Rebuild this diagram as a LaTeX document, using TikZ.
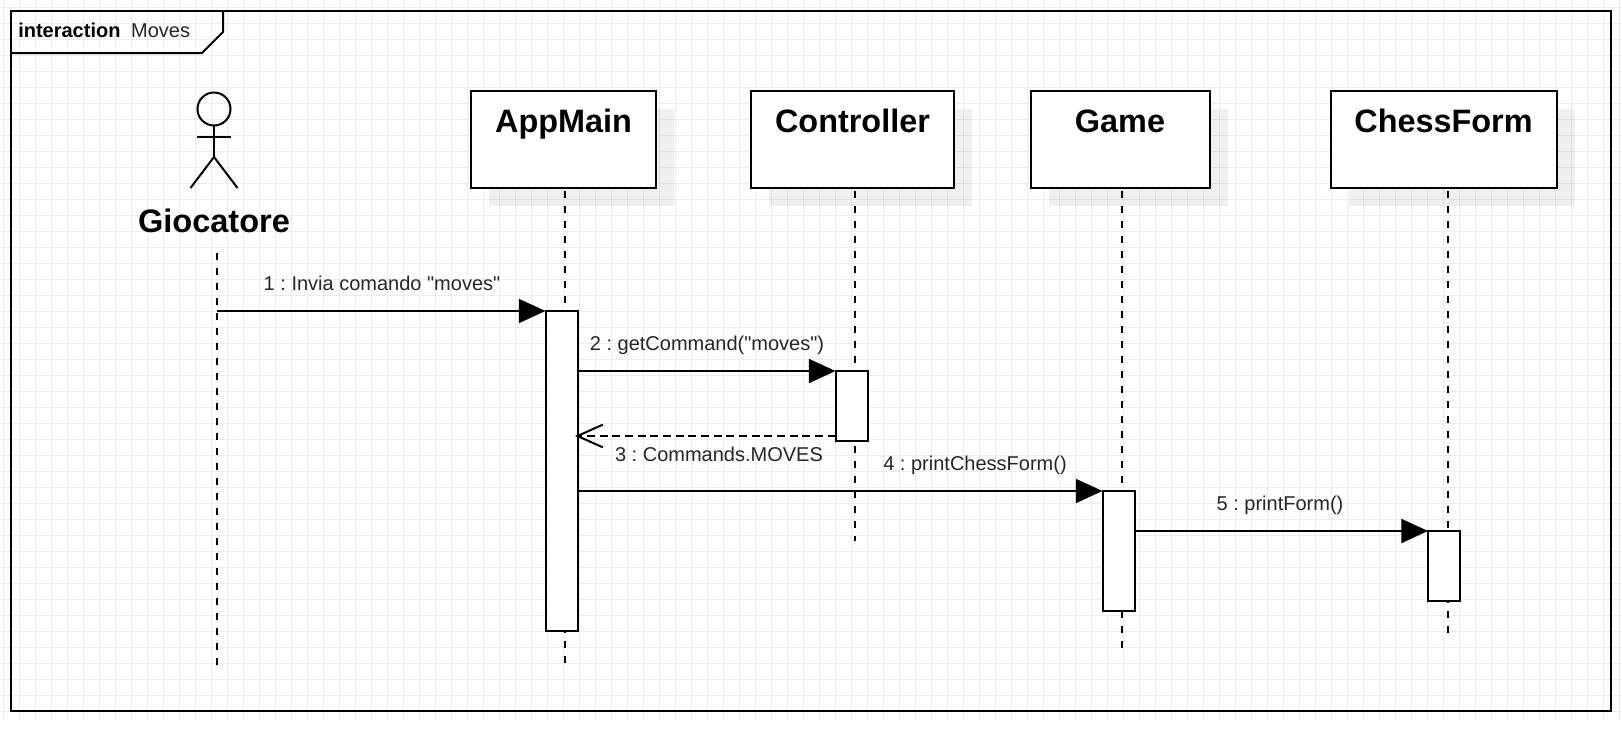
\documentclass[tikz,border=0pt]{standalone}
\usepackage{fontspec}
\setmainfont{Liberation Sans}[Ligatures=TeXOff]
\usetikzlibrary{arrows.meta,shadows}
\definecolor{gridgray}{RGB}{236,236,236}
\tikzset{
	objbox/.style={draw, line width=1.5pt, fill=white, inner xsep=0pt, inner ysep=0pt,
		minimum height=72.75pt, text height=31pt, text depth=41.75pt,
		font=\fontsize{24.3}{28}\selectfont\bfseries,
		general shadow={fill=black, fill opacity=0.06, shadow xshift=13.5pt, shadow yshift=-13.5pt}},
	lifeline/.style={line width=1.5pt, dash pattern=on 5.25pt off 6pt, dash phase=9.4pt},
	activebar/.style={draw, line width=1.5pt, fill=white, inner sep=0pt, outer sep=0pt, minimum width=24pt},
	msg/.style={line width=1.5pt, -{Triangle[length=20pt,width=18pt]}},
	reply/.style={line width=1.5pt, dash pattern=on 6pt off 3.5pt, -{Straight Barb[length=19pt,width=17pt,line width=1.5pt]}},
	msglabel/.style={font=\fontsize{15}{18}\selectfont\frenchspacing, text=black!85, inner sep=0pt},
	actorline/.style={line width=1.5pt}
}
\begin{document}
\begin{tikzpicture}[x=0.75pt, y=-0.75pt]
	\useasboundingbox (0,0) rectangle (1622,732);
	\fill[white] (0,0) rectangle (1622,732);
	\begin{scope}[shift={(3.5,7.5)}]
		\draw[gridgray, line width=0.75pt, step=12pt] (-3.5,713) grid (1618.5,-7.5);
	\end{scope}

	% frame
	\draw[line width=1.5pt] (11,11) rectangle (1611,711);
	\node[font=\fontsize{15}{18}\selectfont, text=black!85, inner sep=0pt, anchor=base west] (title) at (18,37) {\textbf{\textcolor{black}{interaction}}\hspace{8pt}Moves};
	\draw[line width=1.5pt] (223,11) -- (223,32) -- (202,53) -- (11,53);

	% objects
	\node[objbox, minimum width=138.75pt] (appmain) at (563.5,139.5) {AppMain};
	\node[objbox, minimum width=152.25pt] (controller) at (852.5,139.5) {Controller};
	\node[objbox, minimum width=134.25pt] (game) at (1120,139.5) {Game};
	\node[objbox, minimum width=169.5pt] (chessform) at (1443.5,139.5) {ChessForm};

	% actor
	\draw[actorline] (214,109) circle (16.5);
	\draw[actorline] (214,125.5) -- (214,157);
	\draw[actorline] (197,137) -- (231,137);
	\draw[actorline] (190.5,188) -- (214,157) -- (237.5,188);
	\node[font=\fontsize{24.4}{28}\selectfont\bfseries, inner sep=0pt] (giocatore) at (214,221) {Giocatore};

	% lifelines
	\coordinate (actortop) at (217,250.5);
	\coordinate (actorend) at (217,665);
	\coordinate (append) at (565,663);
	\coordinate (ctlend) at (854.5,541);
	\coordinate (gameend) at (1122,648);
	\coordinate (chessend) at (1447.5,633);
	\draw[lifeline] (actortop) -- (actorend);
	\draw[lifeline] (append |- appmain.south) -- (append);
	\draw[lifeline] (ctlend |- controller.south) -- (ctlend);
	\draw[lifeline] (gameend |- game.south) -- (gameend);
	\draw[lifeline] (chessend |- chessform.south) -- (chessend);

	% activations
	\node[activebar, minimum height=240pt, anchor=north] (appbar) at (561.5,311) {};
	\node[activebar, minimum height=52.5pt, anchor=north] (ctlbar) at (851.5,371) {};
	\node[activebar, minimum height=90pt, anchor=north] (gamebar) at (1118.5,491) {};
	\node[activebar, minimum height=52.5pt, anchor=north] (chessbar) at (1444,531) {};

	% messages
	\coordinate (replyend) at (575,436);
	\draw[msg] (actortop |- appbar.north) -- (appbar.north west);
	\draw[msg] (appbar.east |- ctlbar.north) -- (ctlbar.north west);
	\draw[reply] (ctlbar.west |- replyend) -- (replyend);
	\draw[msg] (appbar.east |- gamebar.north) -- (gamebar.north west);
	\draw[msg] (gamebar.east |- chessbar.north) -- (chessbar.north west);

	% labels
	\node[msglabel] (msgone) at (382,283) {1 : Invia comando "moves"};
	\node[msglabel] (msgtwo) at (707,345) {2 : getCommand("moves")};
	\node[msglabel] (msgthree) at (719,454) {3 : Commands.MOVES};
	\node[msglabel] (msgfour) at (975,465) {4 : printChessForm()};
	\node[msglabel] (msgfive) at (1280,505) {5 : printForm()};
\end{tikzpicture}
\end{document}
